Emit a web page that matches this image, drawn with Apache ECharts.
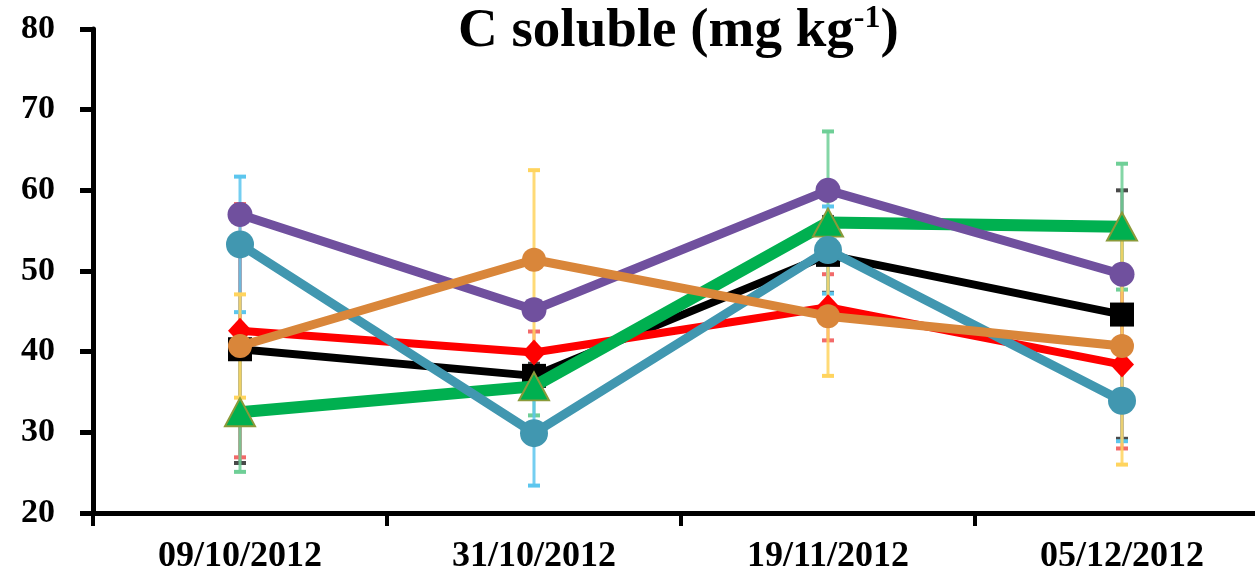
<!DOCTYPE html>
<html>
<head>
<meta charset="utf-8">
<script src="https://cdn.jsdelivr.net/npm/echarts@6/dist/echarts.min.js"></script>
<style>
html,body{margin:0;padding:0;background:#fff;overflow:hidden;width:1255px;height:575px;}
#main{width:1269px;height:575px;}
</style>
</head>
<body>
<div id="main"></div>
<script>
const categories = ['09/10/2012', '31/10/2012', '19/11/2012', '05/12/2012'];
const yTicks = [20, 30, 40, 50, 60, 70, 80];

const blackVals  = [40.3, 37.0, 52.0, 44.6];
const blackErr   = [14.1, 1.5, 4.7, 15.4];
const redVals    = [42.6, 39.9, 45.5, 38.4];
const redErr     = [15.7, 2.6, 4.1, 10.4];
const greenVals  = [32.5, 35.7, 56.0, 55.5];
const greenErr   = [7.4, 3.6, 11.3, 7.8];
const purpleVals = [57.0, 45.2, 60.0, 49.6];
const purpleErr  = [1.0, 1.0, 1.0, 1.0];
const tealVals   = [53.3, 29.9, 52.6, 33.9];
const tealErr    = [8.4, 6.5, 5.4, 5.0];
const orangeVals = [40.7, 51.4, 44.4, 40.7];
const orangeErr  = [6.4, 11.1, 7.4, 14.7];

const chart = echarts.init(document.getElementById('main'), null, {renderer: 'canvas'});

function errSeries(vals, errs, color, z) {
  return {
    type: 'custom',
    z: z,
    silent: true,
    data: vals.map((v, i) => [i, v, errs[i]]),
    encode: {x: 0, y: 1},
    renderItem: function (params, api) {
      const x = api.value(0), v = api.value(1), e = api.value(2);
      const hi = api.coord([x, v + e]);
      const lo = api.coord([x, v - e]);
      const w = 6;
      return {
        type: 'group',
        children: [
          {type: 'line', shape: {x1: hi[0], y1: hi[1], x2: lo[0], y2: lo[1]}, style: {stroke: color, lineWidth: 3, opacity: 0.85}},
          {type: 'line', shape: {x1: hi[0] - w, y1: hi[1], x2: hi[0] + w, y2: hi[1]}, style: {stroke: color, lineWidth: 4}},
          {type: 'line', shape: {x1: lo[0] - w, y1: lo[1], x2: lo[0] + w, y2: lo[1]}, style: {stroke: color, lineWidth: 4}}
        ]
      };
    }
  };
}

function lineSeries(vals, color, width, symbol, size, z, extra) {
  return Object.assign({
    type: 'line',
    data: vals,
    z: z,
    symbol: symbol,
    symbolSize: size,
    showAllSymbol: true,
    lineStyle: {color: color, width: width},
    itemStyle: {color: color, borderWidth: 0},
    emphasis: {disabled: true},
    animation: false
  }, extra || {});
}

const axisFont = {fontFamily: '"Liberation Serif", "DejaVu Serif", serif', fontWeight: 'bold', color: '#000'};

chart.setOption({
  animation: false,
  backgroundColor: '#fff',
  title: {
    text: 'C soluble (mg kg{sup|-1})',
    left: 453,
    top: -2,
    textStyle: {
      fontFamily: '"Liberation Serif", serif',
      fontWeight: 'bold',
      fontSize: 55,
      color: '#000',
      rich: {
        sup: {fontFamily: '"Liberation Serif", serif', fontWeight: 'bold', fontSize: 32, verticalAlign: 'top', padding: [0, 0, 26, 0], color: '#000'}
      }
    }
  },
  grid: {left: 93, right: 0, top: 29, bottom: 61, containLabel: false},
  xAxis: {
    type: 'category',
    data: categories,
    boundaryGap: true,
    axisLine: {show: true, lineStyle: {color: '#000', width: 5}},
    axisTick: {show: true, length: 13, lineStyle: {color: '#000', width: 4}},
    axisLabel: Object.assign({fontSize: 36, margin: 26}, axisFont),
    splitLine: {show: false}
  },
  yAxis: {
    type: 'value',
    min: yTicks[0],
    max: yTicks[yTicks.length - 1],
    interval: 10,
    axisLine: {show: true, lineStyle: {color: '#000', width: 5}},
    axisTick: {show: true, length: 13, lineStyle: {color: '#000', width: 5}},
    axisLabel: Object.assign({fontSize: 34, margin: 38}, axisFont),
    splitLine: {show: false}
  },
  series: [
    errSeries(blackVals, blackErr, '#4a4a4a', 1),
    errSeries(redVals, redErr, '#f26a6a', 1),
    errSeries(greenVals, greenErr, '#6fcf97', 1),
    errSeries(purpleVals, purpleErr, '#9c86c4', 1),
    errSeries(tealVals, tealErr, '#5cc6ee', 1),
    errSeries(orangeVals, orangeErr, '#ffd45e', 1),
    lineSeries(blackVals, '#000000', 8, 'rect', 24, 3),
    lineSeries(redVals, '#ff0000', 8, 'diamond', [24, 26], 4),
    lineSeries(greenVals, '#00b050', 12, 'triangle', [30, 28], 5, {itemStyle: {color: '#00b050', borderColor: '#8a9a3a', borderWidth: 2}}),
    lineSeries(purpleVals, '#70509e', 9, 'circle', 25, 6),
    lineSeries(tealVals, '#4197b0', 9, 'circle', 28, 7),
    lineSeries(orangeVals, '#d9863a', 9, 'circle', 24, 8)
  ]
});
</script>
</body>
</html>
